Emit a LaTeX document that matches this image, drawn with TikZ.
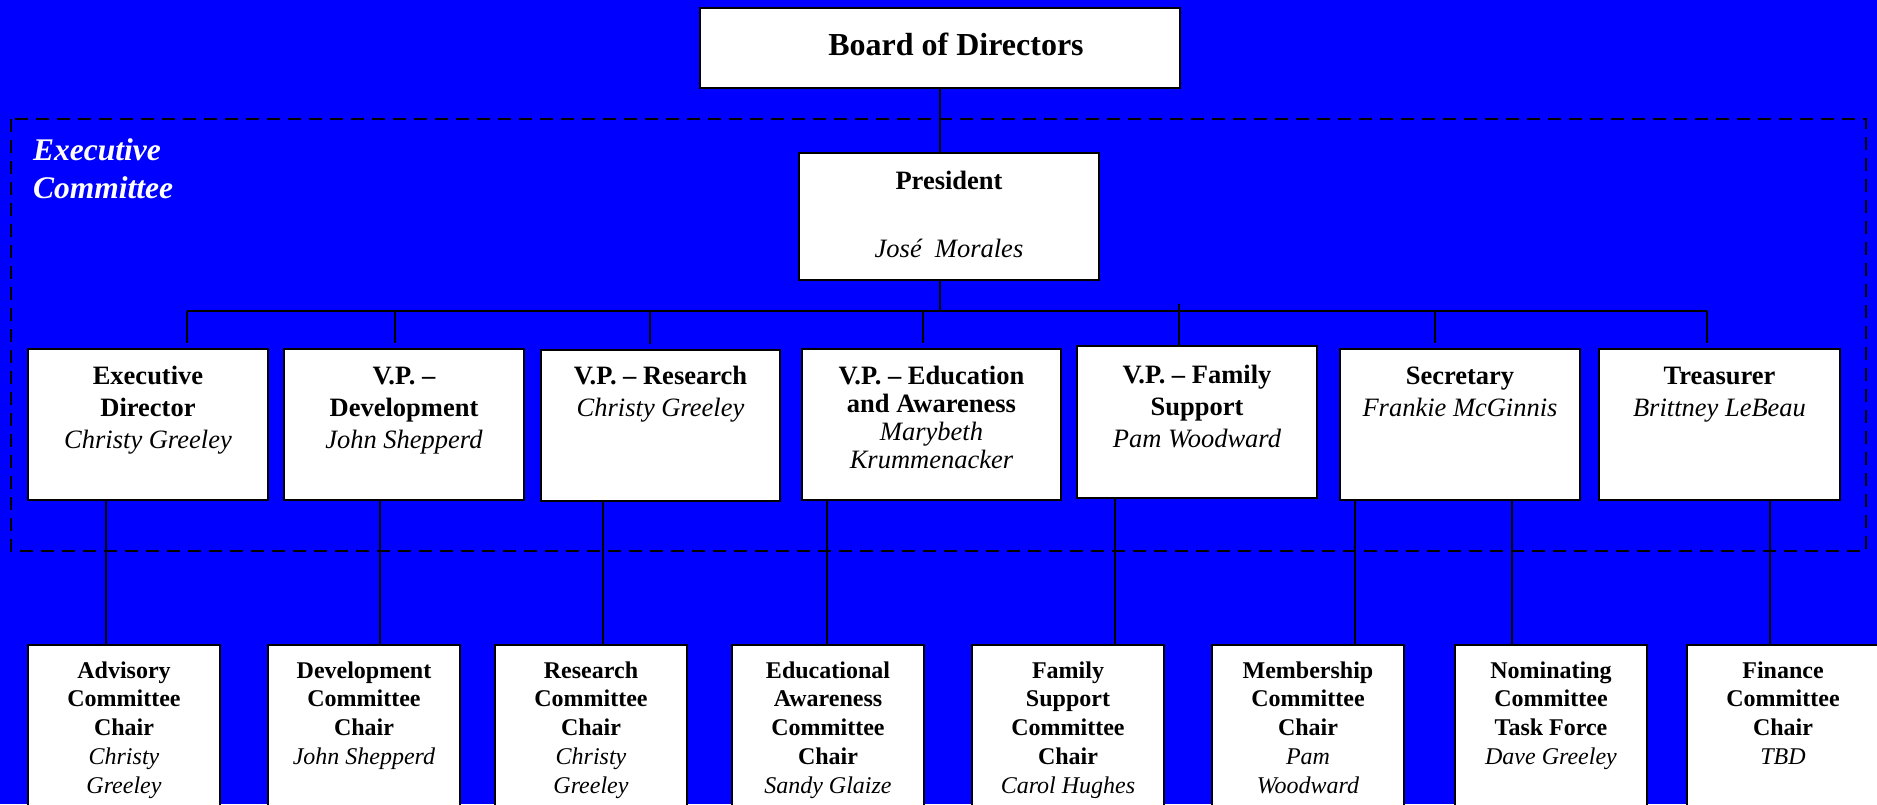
\documentclass[tikz,border=0pt]{standalone}
\usepackage{fontspec}
\setmainfont{Liberation Serif}
\usepackage{tikz}

\definecolor{bgblue}{RGB}{0,0,255}

\tikzset{
	orgbox/.style={draw=black, fill=white, line width=2pt, inner sep=0pt, anchor=north west},
	topbox/.style={orgbox, minimum width=240pt, text height=35pt, text depth=116pt,
		font=\fontsize{26.5}{32}\selectfont},
	chairbox/.style={orgbox, minimum width=192pt, text height=33pt, text depth=160pt,
		font=\fontsize{24}{28.75}\selectfont},
	link/.style={draw=black, line width=1.5pt},
	committee/.style={draw=black, line width=2.5pt, dash pattern=on 13pt off 8pt},
	comlabel/.style={anchor=base west, inner sep=0pt, text=white,
		font=\fontsize{31.5}{38}\selectfont\bfseries\itshape}
}

\begin{document}
\begin{tikzpicture}[x=1pt, y=-1pt]
	\clip (0,0) rectangle (1877,804);
	\fill[bgblue] (0,0) rectangle (1877,804);

	% executive committee frame
	\draw[committee] (11,119) rectangle (1866,551);
	\node[comlabel] (execlabel) at (33,160) {\parbox[t]{250pt}{\raggedright Executive\\Committee}};

	% board and president
	\node[orgbox, minimum width=480pt, text height=47pt, text depth=33pt,
		font=\fontsize{32}{38}\selectfont] (board) at (699,7) {\hspace*{32pt}\textbf{Board of Directors}};
	\node[orgbox, minimum width=300pt, text height=36pt, text depth=91pt,
		font=\fontsize{26.5}{32}\selectfont] (pres) at (798,152)
		{\parbox[t]{280pt}{\centering\textbf{President}\\[36pt]\textit{José~~Morales}}};

	% officers
	\node[topbox] (execdir) at (27,348)
		{\parbox[t]{230pt}{\centering\textbf{Executive}\\\textbf{Director}\\\textit{Christy Greeley}}};
	\node[topbox] (vpdev) at (283,348)
		{\parbox[t]{230pt}{\centering\textbf{V.P. –}\\\textbf{Development}\\\textit{John Shepperd}}};
	\node[topbox, text height=34pt, text depth=117pt, minimum width=239pt] (vpres) at (540,349)
		{\parbox[t]{229pt}{\centering\textbf{V.P. – Research}\\\textit{Christy Greeley}}};
	\node[topbox, minimum width=259pt, font=\fontsize{26.5}{28}\selectfont] (vpedu) at (801,348)
		{\parbox[t]{249pt}{\centering\textbf{V.P. – Education}\\\textbf{and Awareness}\\\textit{Marybeth}\\\textit{Krummenacker}}};
	\node[topbox, text height=37pt, text depth=115pt] (vpfam) at (1076,345)
		{\parbox[t]{230pt}{\centering\textbf{V.P. – Family}\\\textbf{Support}\\\textit{Pam Woodward}}};
	\node[topbox] (secr) at (1339,348)
		{\parbox[t]{230pt}{\centering\textbf{Secretary}\\\textit{Frankie McGinnis}}};
	\node[topbox, minimum width=241pt] (treas) at (1598,348)
		{\parbox[t]{231pt}{\centering\textbf{Treasurer}\\\textit{Brittney LeBeau}}};

	% committee chairs
	\node[chairbox] (advc) at (27,644)
		{\parbox[t]{182pt}{\centering\textbf{Advisory}\\\textbf{Committee}\\\textbf{Chair}\\\textit{Christy}\\\textit{Greeley}}};
	\node[chairbox] (devc) at (267,644)
		{\parbox[t]{182pt}{\centering\textbf{Development}\\\textbf{Committee}\\\textbf{Chair}\\\textit{John Shepperd}}};
	\node[chairbox] (resc) at (494,644)
		{\parbox[t]{182pt}{\centering\textbf{Research}\\\textbf{Committee}\\\textbf{Chair}\\\textit{Christy}\\\textit{Greeley}}};
	\node[chairbox] (educ) at (731,644)
		{\parbox[t]{182pt}{\centering\textbf{Educational}\\\textbf{Awareness}\\\textbf{Committee}\\\textbf{Chair}\\\textit{Sandy Glaize}}};
	\node[chairbox] (famc) at (971,644)
		{\parbox[t]{182pt}{\centering\textbf{Family}\\\textbf{Support}\\\textbf{Committee}\\\textbf{Chair}\\\textit{Carol Hughes}}};
	\node[chairbox] (memc) at (1211,644)
		{\parbox[t]{182pt}{\centering\textbf{Membership}\\\textbf{Committee}\\\textbf{Chair}\\\textit{Pam}\\\textit{Woodward}}};
	\node[chairbox] (nomc) at (1454,644)
		{\parbox[t]{182pt}{\centering\textbf{Nominating}\\\textbf{Committee}\\\textbf{Task Force}\\\textit{Dave Greeley}}};
	\node[chairbox] (finc) at (1686,644)
		{\parbox[t]{182pt}{\centering\textbf{Finance}\\\textbf{Committee}\\\textbf{Chair}\\\textit{TBD}}};

	% connectors
	\coordinate (busL) at (187,311);
	\coordinate (busR) at (1707,311);
	\draw[link] (board.south) -- (board.south |- pres.north);
	\draw[link] (board.south |- pres.south) -- (board.south |- busL);
	\draw[link] (busL) -- (busR);
	\foreach \x/\n in {187/execdir, 395/vpdev, 650/vpres, 923/vpedu, 1435/secr, 1707/treas}
		\draw[link, shorten >=5pt] (\x,311) -- (\x,0 |- \n.north);
	\draw[link] (1179,304) -- (1179,0 |- vpfam.north);
	\foreach \x/\a/\b in {106/execdir/advc, 380/vpdev/devc, 603/vpres/resc, 827/vpedu/educ,
		1115/vpfam/famc, 1355/secr/memc, 1512/secr/nomc, 1770/treas/finc}
		\draw[link] (\x,0 |- \a.south) -- (\x,0 |- \b.north);
\end{tikzpicture}
\end{document}
